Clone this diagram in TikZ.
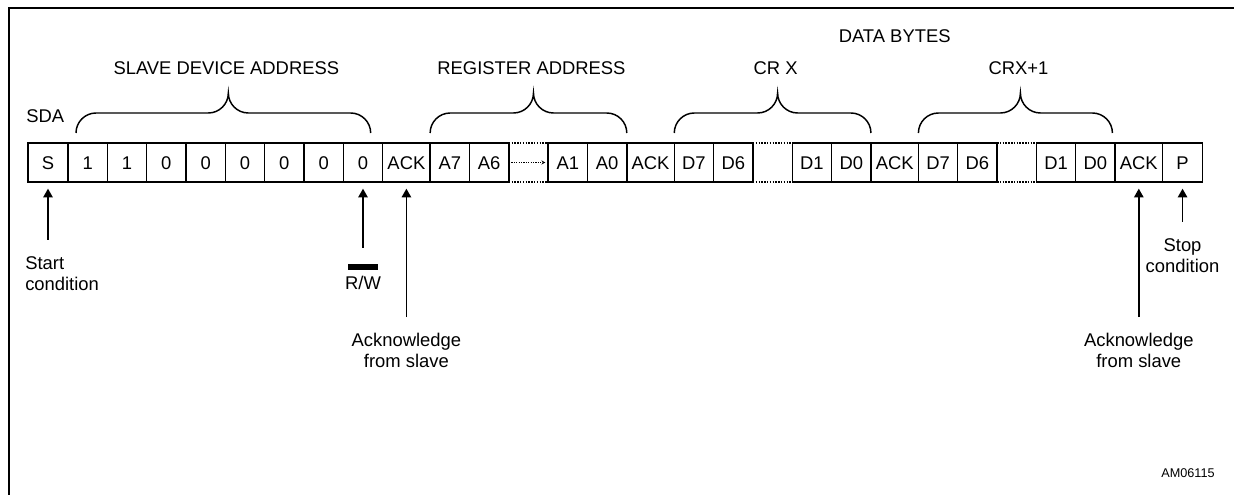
\documentclass[tikz,border=0pt]{standalone}
\usepackage{fontspec}
\setmainfont{Liberation Sans}
\usetikzlibrary{positioning, arrows.meta, calc}

% curly brace over a group of bits: #1 start, #2 end, #3 name, #4 label
\newcommand{\busbrace}[4]{%
  \draw[busbrace] let \p1=#1, \p2=#2, \p3=($#1!.5!#2$) in
    (\x1,\y1) .. controls (\x1,\y1+8.25pt) and (\x1+6.75pt,\y1+15pt) .. (\x1+15pt,\y1+15pt)
    -- (\x3-11.25pt,\y1+15pt)
    .. controls (\x3-3pt,\y1+15pt) and (\x3+3.75pt,\y1+21.75pt) .. (\x3+3.75pt,\y1+30pt)
    .. controls (\x3+3.75pt,\y1+21.75pt) and (\x3+10.5pt,\y1+15pt) .. (\x3+18.75pt,\y1+15pt)
    -- (\x2-15pt,\y1+15pt)
    .. controls (\x2-6.75pt,\y1+15pt) and (\x2,\y1+8.25pt) .. (\x2,\y1)
    (\x3+2.25pt,\y1) node[lbl, above=43.5pt] (#3) {#4};
}

\begin{document}
\begin{tikzpicture}[
    x=0.75pt, y=-0.75pt,
    font=\fontsize{13.8pt}{16pt}\selectfont,
    cell/.style={
        draw, line width=1.1pt,
        minimum width=29.5pt, minimum height=29.25pt,
        inner sep=0pt, outer sep=0pt,
        text height=9.9pt, text depth=0pt
    },
    endcell/.style={cell, minimum width=30pt},
    ackcell/.style={cell, minimum width=35.6pt},
    gapcell/.style={cell, draw=none},
    gapline/.style={densely dotted, line width=1.1pt},
    lbl/.style={inner sep=0pt},
    busbrace/.style={line width=1.1pt},
    ptr/.style={
        -{Triangle[length=6.5pt, width=7pt]}, line width=1.2pt,
        shorten <=12pt, shorten >=5pt
    }
]
\useasboundingbox (0,0) rectangle (1234,495);

% ===== FRAME =====
\draw[line width=1.5pt] (9,495) -- (9,8.5) -- (1234,8.5);

% ===== SLAVE DEVICE ADDRESS =====
\node[endcell] (s) at (48,162.5) {S};
\node[cell, right=0pt of s] (ad6) {1};
\node[cell, right=0pt of ad6] (ad5) {1};
\node[cell, right=0pt of ad5] (ad4) {0};
\node[cell, right=0pt of ad4] (ad3) {0};
\node[cell, right=0pt of ad3] (ad2) {0};
\node[cell, right=0pt of ad2] (ad1) {0};
\node[cell, right=0pt of ad1] (ad0) {0};
\node[cell, right=0pt of ad0] (rwbit) {0};
\node[ackcell, right=0pt of rwbit] (ack1) {ACK};

% ===== REGISTER ADDRESS =====
\node[cell, right=0pt of ack1] (ra7) {A7};
\node[cell, right=0pt of ra7] (ra6) {A6};
\node[gapcell, right=0pt of ra6] (ragap) {};
\node[cell, right=0pt of ragap] (ra1) {A1};
\node[cell, right=0pt of ra1] (ra0) {A0};
\node[ackcell, right=0pt of ra0] (ack2) {ACK};

% ===== DATA BYTES =====
\node[cell, right=0pt of ack2] (cx7) {D7};
\node[cell, right=0pt of cx7] (cx6) {D6};
\node[gapcell, right=0pt of cx6] (cxgap) {};
\node[cell, right=0pt of cxgap] (cx1) {D1};
\node[cell, right=0pt of cx1] (cx0) {D0};
\node[ackcell, right=0pt of cx0] (ack3) {ACK};

\node[cell, right=0pt of ack3] (cy7) {D7};
\node[cell, right=0pt of cy7] (cy6) {D6};
\node[gapcell, right=0pt of cy6] (cygap) {};
\node[cell, right=0pt of cygap] (cy1) {D1};
\node[cell, right=0pt of cy1] (cy0) {D0};
\node[ackcell, right=0pt of cy0] (ack4) {ACK};
\node[endcell, right=0pt of ack4] (p) {P};

% ===== GAPS =====
\draw[gapline] (ragap.north west) -- (ragap.north east);
\draw[gapline] (ragap.south west) -- (ragap.south east);
\draw[gapline] (cxgap.north west) -- (cxgap.north east);
\draw[gapline] (cxgap.south west) -- (cxgap.south east);
\draw[gapline] (cygap.north west) -- (cygap.north east);
\draw[gapline] (cygap.south west) -- (cygap.south east);
\draw[densely dotted, line width=0.8pt, -{Stealth[length=3pt, width=3pt]}]
    ([xshift=2pt]ragap.west) -- ([xshift=-2pt]ragap.east);

% ===== BRACES =====
\busbrace{([xshift=6pt, yshift=7.5pt]ad6.north west)}
         {([xshift=-9pt, yshift=7.5pt]rwbit.north east)}{slavelbl}{SLAVE DEVICE ADDRESS}
\busbrace{([yshift=7.5pt]ra7.north west)}{([yshift=7.5pt]ra0.north east)}{reglbl}{REGISTER ADDRESS}
\busbrace{([yshift=7.5pt]cx7.north west)}{([yshift=7.5pt]cx0.north east)}{crxlbl}{CR X}
\busbrace{([yshift=7.5pt]cy7.north west)}{([xshift=-2pt, yshift=7.5pt]cy0.north east)}{crylbl}{CRX+1}

\node[lbl, above=75pt of ack3] (databytes) {DATA BYTES};
\node[lbl, above right=15pt and -1.5pt of s.north west] (sda) {SDA};

% ===== POINTERS =====
\node[lbl, align=left, below right=55.5pt and -2.25pt of s.south west] (startlbl)
    {Start\\condition};
\node[lbl, align=center, below=61.5pt of rwbit] (rwlbl)
    {\rule{22.5pt}{4.5pt}\\[-1.5pt]R/W};
\node[lbl, align=center, below=113.25pt of ack1] (acklbl1)
    {Acknowledge\\from slave};
\node[lbl, align=center, below=113.25pt of ack4] (acklbl2)
    {Acknowledge\\from slave};
\node[lbl, align=center, below=42pt of p] (stoplbl)
    {Stop\\condition};

\draw[ptr] (startlbl.north -| s.south) -- (s.south);
\draw[ptr] (rwlbl.north) -- (rwbit.south);
\draw[ptr] (acklbl1.north) -- (ack1.south);
\draw[ptr] (acklbl2.north) -- (ack4.south);
\draw[ptr] (stoplbl.north) -- (p.south);

\node[lbl, font=\fontsize{9.5pt}{11pt}\selectfont] (amcode) at (1188,473) {AM06115};

\end{tikzpicture}
\end{document}
